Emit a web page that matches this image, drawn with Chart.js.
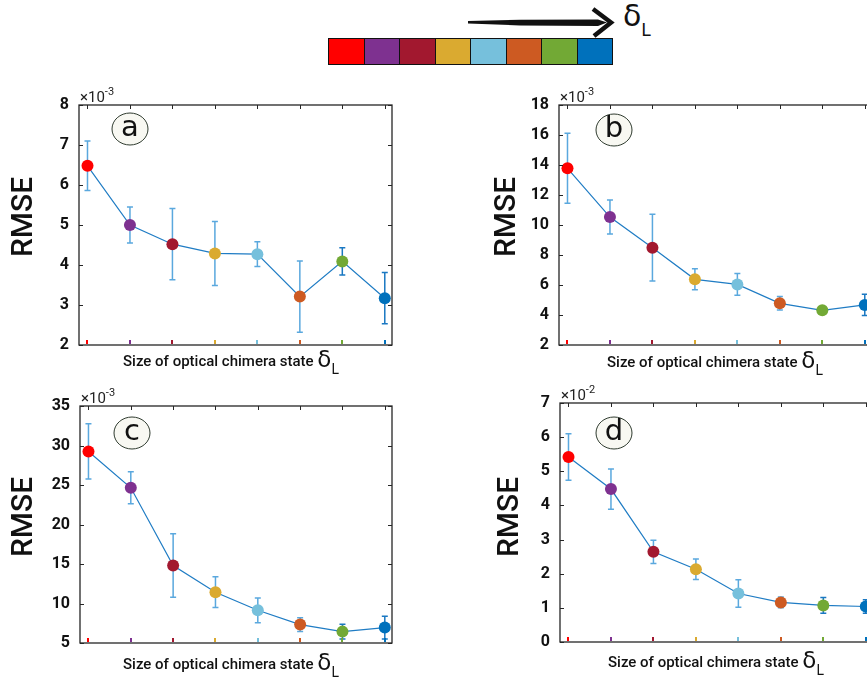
<!DOCTYPE html>
<html>
<head>
<meta charset="utf-8">
<script src="https://cdn.jsdelivr.net/npm/chart.js@4"></script>
<style>
html,body{margin:0;padding:0;background:#fff;width:867px;height:682px;overflow:hidden;position:relative}
canvas{position:absolute}
#bar{position:absolute;left:328px;top:38px;width:285px;height:27px;display:flex;border:1px solid #111;box-sizing:border-box}
#bar div{flex:1;border-right:1px solid #111}
#bar div:last-child{border-right:none}
#arrow{position:absolute;left:0;top:0}
#dl{position:absolute;left:623px;top:-2px;font:30px "DejaVu Sans";color:#111;line-height:36px}
#dl span{font-size:17px;position:relative;top:10px;left:0px}
</style>
</head>
<body>
<svg id="arrow" width="867" height="42">
  <polygon points="468,21 520,19.8 598,19.5 607,22.5 598,26 520,25.5 468,23.5" fill="#111"/>
  <polyline points="593,9 611,22.5 594,36" fill="none" stroke="#111" stroke-width="4.5"/>
</svg>
<div id="dl">δ<span>L</span></div>
<div id="bar"></div>

<script>
// δL sizes (categories) and their marker colours
const CATS = [1, 2, 3, 4, 5, 6, 7, 8];
const COLORS = ['#FF0000','#7E3190','#A2182F','#DAAA30','#76C0DC','#CD5A22','#72A935','#0071BC'];

// RMSE values (scaled, see exponent) and error bar half-widths
const rmseA = [6.48, 5.00, 4.52, 4.29, 4.27, 3.21, 4.09, 3.17];
const errA  = [0.62, 0.45, 0.89, 0.80, 0.31, 0.89, 0.34, 0.64];
const rmseB = [13.78, 10.53, 8.49, 6.38, 6.04, 4.78, 4.31, 4.67];
const errB  = [2.33, 1.13, 2.22, 0.70, 0.72, 0.45, 0.10, 0.71];
const rmseC = [29.25, 24.65, 14.81, 11.43, 9.14, 7.33, 6.44, 6.95];
const errC  = [3.50, 2.03, 4.03, 1.95, 1.57, 0.87, 0.93, 1.45];
const rmseD = [5.42, 4.48, 2.64, 2.13, 1.42, 1.16, 1.07, 1.04];
const errD  = [0.68, 0.59, 0.34, 0.30, 0.40, 0.16, 0.23, 0.20];

// y tick labels
const ticksA = [2, 3, 4, 5, 6, 7, 8];
const ticksB = [2, 4, 6, 8, 10, 12, 14, 16, 18];
const ticksC = [5, 10, 15, 20, 25, 30, 35];
const ticksD = [0, 1, 2, 3, 4, 5, 6, 7];

const XLABEL = 'Size of optical chimera state ';
const W = 420, H = 300;

// colour bar on top
document.getElementById('bar').innerHTML = COLORS.map(c=>`<div style="background:${c}"></div>`).join('');

const PANELS = [
  {letter:'a', vals:rmseA, errs:errA, ticks:ticksA, exp:'-3', left:0,   top:80,  plot:[79,105,392,345],  tag:[130,129], rmse:[24,217],  xlab:[123,362]},
  {letter:'b', vals:rmseB, errs:errB, ticks:ticksB, exp:'-3', left:480, top:80,  plot:[559,105,872,345], tag:[614,130], rmse:[507,217], xlab:[607,363]},
  {letter:'c', vals:rmseC, errs:errC, ticks:ticksC, exp:'-3', left:0,   top:380, plot:[80,406,392,643],  tag:[132,433], rmse:[24,517],  xlab:[123,665]},
  {letter:'d', vals:rmseD, errs:errD, ticks:ticksD, exp:'-2', left:480, top:380, plot:[560,403,873,642], tag:[614,433], rmse:[510,517], xlab:[608,663]}
];

function makePanel(p){
  const cv = document.createElement('canvas');
  cv.width = W; cv.height = H;
  cv.style.left = p.left + 'px';
  cv.style.top = p.top + 'px';
  document.body.appendChild(cv);
  const [pl, pt, pr, pb] = p.plot;

  const decor = {
    id: 'decor' + p.letter,
    beforeDatasetsDraw(chart){
      const ctx = chart.ctx, xs = chart.scales.x, ys = chart.scales.y;
      ctx.save();
      ctx.lineWidth = 1.5;
      p.vals.forEach((v,i)=>{
        const x = xs.getPixelForValue(CATS[i]);
        const y1 = ys.getPixelForValue(v + p.errs[i]);
        const y2 = ys.getPixelForValue(v - p.errs[i]);
        ctx.strokeStyle = i >= 6 ? '#1A78C2' : '#5AA8DE';
        ctx.beginPath();
        ctx.moveTo(x, y1); ctx.lineTo(x, y2);
        ctx.moveTo(x-3, y1); ctx.lineTo(x+3, y1);
        ctx.moveTo(x-3, y2); ctx.lineTo(x+3, y2);
        ctx.stroke();
      });
      ctx.restore();
    },
    afterDraw(chart){
      const ctx = chart.ctx, a = chart.chartArea, xs = chart.scales.x, ys = chart.scales.y;
      ctx.save();
      // box
      ctx.strokeStyle = '#262626';
      ctx.lineWidth = 1.3;
      ctx.strokeRect(a.left, a.top, a.right - a.left, a.bottom - a.top);
      // inward y ticks both sides
      ctx.lineWidth = 1;
      ctx.beginPath();
      p.ticks.forEach(t=>{
        const y = Math.round(ys.getPixelForValue(t)) + 0.5;
        ctx.moveTo(a.left, y); ctx.lineTo(a.left + 4, y);
        ctx.moveTo(a.right, y); ctx.lineTo(a.right - 4, y);
      });
      // top x ticks
      CATS.forEach(c=>{
        const x = Math.round(xs.getPixelForValue(c)) + 0.5;
        ctx.moveTo(x, a.top); ctx.lineTo(x, a.top + 4);
      });
      ctx.stroke();
      // coloured bottom ticks
      ctx.lineWidth = 2;
      CATS.forEach((c,i)=>{
        const x = Math.round(xs.getPixelForValue(c));
        ctx.strokeStyle = COLORS[i];
        ctx.beginPath();
        ctx.moveTo(x, a.bottom - 1); ctx.lineTo(x, a.bottom - 5);
        ctx.stroke();
      });
      // exponent
      ctx.fillStyle = '#222';
      ctx.textBaseline = 'alphabetic';
      ctx.textAlign = 'left';
      ctx.font = '15px Roboto';
      ctx.fillText('×10', a.left + 1, a.top - 3);
      const w10 = ctx.measureText('×10').width;
      ctx.font = '11px Roboto';
      ctx.fillText(p.exp, a.left + 1 + w10, a.top - 10);
      // panel tag
      const tx = p.tag[0] - p.left, ty = p.tag[1] - p.top;
      ctx.beginPath();
      ctx.ellipse(tx, ty, 18, 16, 0, 0, Math.PI*2);
      ctx.fillStyle = '#F8F8F2';
      ctx.fill();
      ctx.strokeStyle = '#2E3A2E';
      ctx.lineWidth = 1;
      ctx.stroke();
      ctx.fillStyle = '#111';
      ctx.font = '29px "DejaVu Sans"';
      ctx.textAlign = 'center';
      ctx.textBaseline = 'middle';
      ctx.fillText(p.letter, tx, ty - 1);
      // y title
      ctx.save();
      ctx.translate(p.rmse[0] - p.left, p.rmse[1] - p.top);
      ctx.rotate(-Math.PI/2);
      ctx.font = '500 30px Roboto';
      ctx.fillText('RMSE', 0, 0);
      ctx.restore();
      // x title
      const lx = p.xlab[0] - p.left, ly = p.xlab[1] - p.top;
      ctx.textAlign = 'left';
      ctx.textBaseline = 'middle';
      ctx.font = '500 15px Roboto';
      ctx.fillText(XLABEL, lx, ly);
      const wl = ctx.measureText(XLABEL).width;
      ctx.font = '23px "DejaVu Sans"';
      ctx.fillText('δ', lx + wl, ly - 1);
      const wd = ctx.measureText('δ').width;
      ctx.font = '14px Roboto';
      ctx.fillText('L', lx + wl + wd, ly + 8);
      ctx.restore();
    }
  };

  new Chart(cv, {
    type: 'line',
    data: {
      datasets: [{
        data: p.vals.map((v,i)=>({x: CATS[i], y: v})),
        borderColor: '#1F7CC4',
        borderWidth: 1.2,
        pointRadius: 6,
        pointHoverRadius: 6,
        pointBackgroundColor: COLORS,
        pointBorderWidth: 0,
        tension: 0
      }]
    },
    options: {
      responsive: false,
      animation: false,
      events: [],
      layout: {padding: {left: 0, top: pt - p.top, right: p.left + W - pr, bottom: 0}},
      plugins: {legend: {display: false}, tooltip: {enabled: false}},
      scales: {
        x: {
          type: 'linear', min: 0.8, max: 8.17,
          ticks: {display: false},
          grid: {display: false, drawTicks: false},
          border: {display: false},
          afterFit: s => { s.height = p.top + H - pb; }
        },
        y: {
          type: 'linear',
          min: p.ticks[0], max: p.ticks[p.ticks.length - 1],
          afterBuildTicks: s => { s.ticks = p.ticks.map(v => ({value: v})); },
          ticks: {font: {family: 'Roboto', weight: 'bold', size: 16}, color: '#111', padding: 10},
          grid: {display: false, drawTicks: false},
          border: {display: false},
          afterFit: s => { s.width = pl - p.left; }
        }
      }
    },
    plugins: [decor]
  });
}

PANELS.forEach(makePanel);
</script>
</body>
</html>
